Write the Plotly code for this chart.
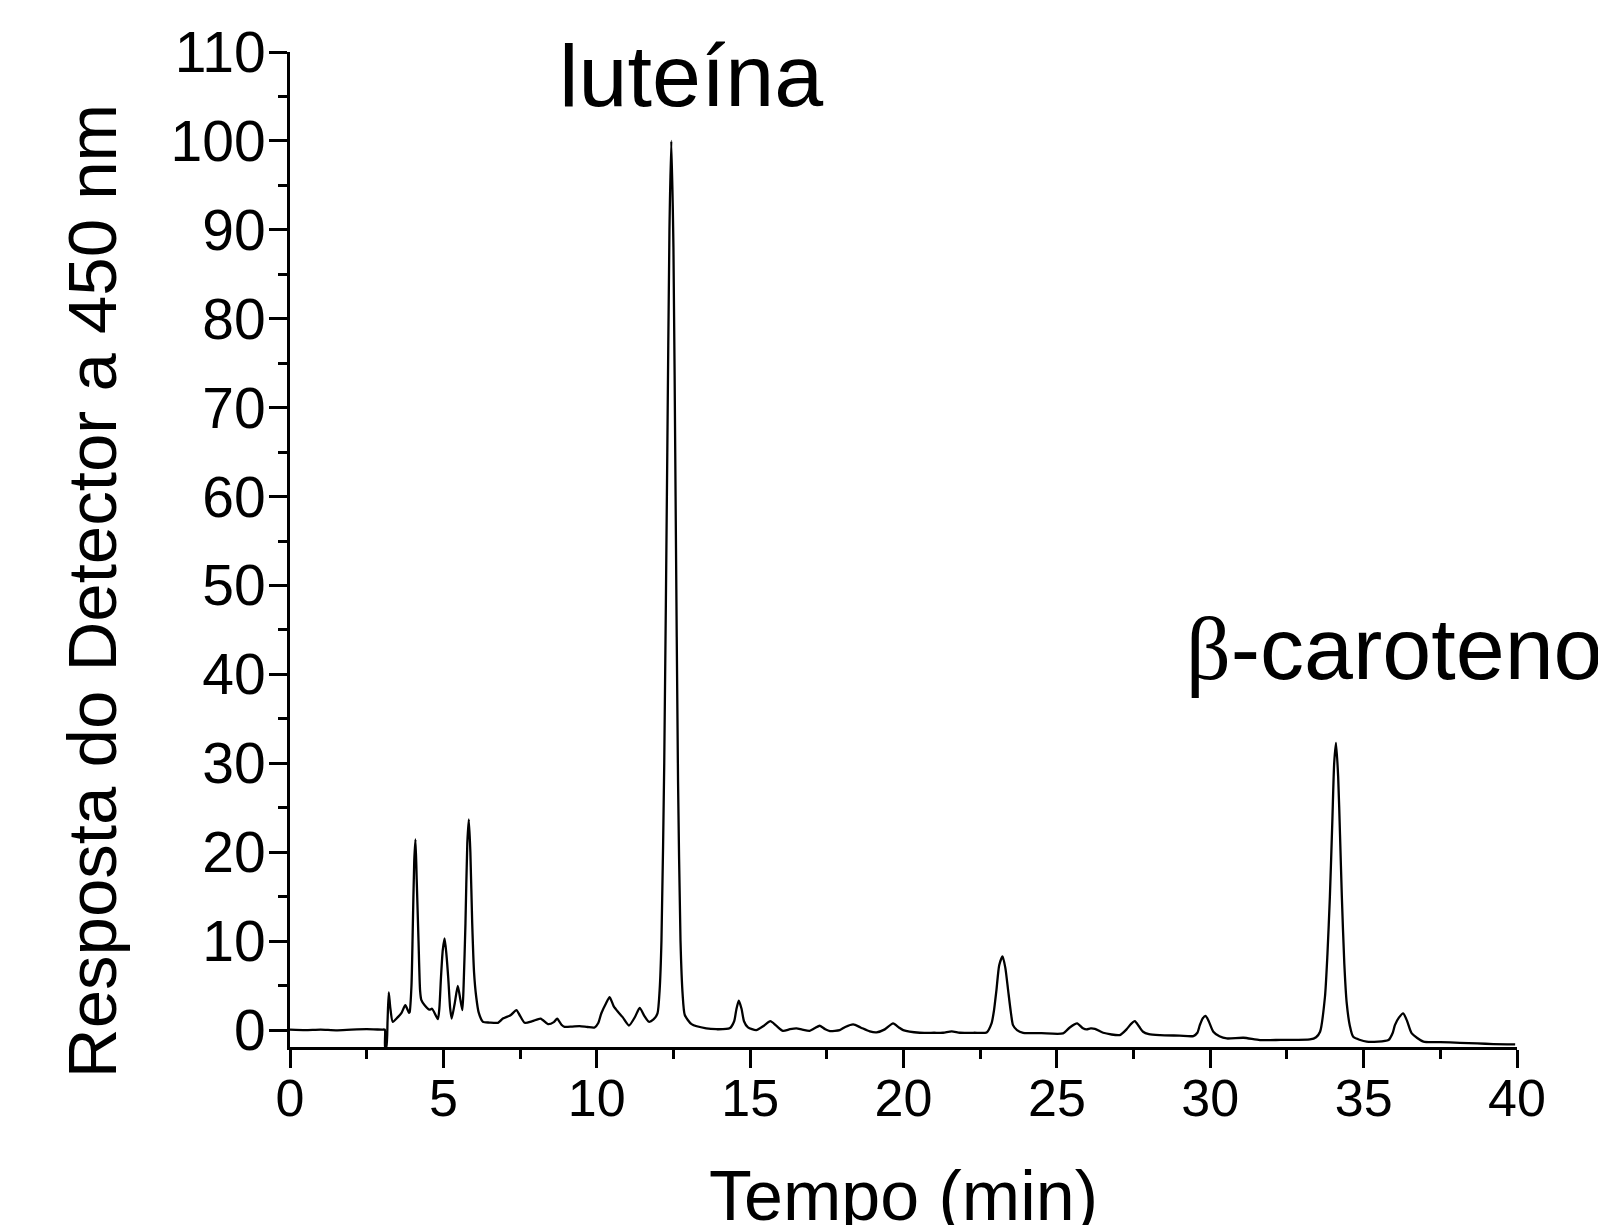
import plotly.graph_objects as go

# Retention time (min) and detector response
tempo = [
    0.0, 0.5, 1.0, 1.5, 2.0, 2.5, 3.0, 3.09, 3.10, 3.14,
    3.18, 3.22, 3.27, 3.35, 3.5, 3.63, 3.76, 3.88,
    3.9, 3.96, 4.0, 4.05, 4.09, 4.13, 4.19, 4.24, 4.28, 4.39, 4.55, 4.63, 4.82,
    4.87, 4.92, 4.98, 5.04, 5.1, 5.16, 5.22, 5.27,
    5.37, 5.47, 5.55, 5.62,
    5.66, 5.72, 5.78, 5.83, 5.88, 5.94, 6.0, 6.07, 6.15, 6.29,
    6.5, 6.78, 6.94, 7.2, 7.38, 7.5, 7.65, 7.9, 8.17, 8.41, 8.6, 8.71, 8.85, 8.95,
    9.2, 9.44, 9.7, 9.93, 10.05, 10.15, 10.3, 10.42, 10.55, 10.69, 10.85, 11.05,
    11.25, 11.4, 11.55, 11.7, 11.85, 11.98, 12.05, 12.11, 12.2, 12.3, 12.37,
    12.43, 12.5, 12.57, 12.65, 12.73, 12.8, 12.87, 13.09, 13.57, 13.9, 14.33,
    14.48, 14.55, 14.63, 14.72, 14.8, 14.93, 15.2, 15.45, 15.66, 15.85, 16.07,
    16.3, 16.51, 16.7, 16.94, 17.1, 17.27, 17.45, 17.6, 17.92, 18.1, 18.36, 18.6,
    18.9, 19.12, 19.39, 19.66, 19.85, 19.99, 20.53, 21.0, 21.29, 21.57, 21.84,
    22.3, 22.71, 22.87, 22.95, 23.03, 23.12, 23.23, 23.32, 23.41, 23.5, 23.57,
    23.7, 23.9, 24.5, 25.2, 25.42, 25.66, 25.85, 25.97, 26.1, 26.24, 26.51,
    27.05, 27.27, 27.42, 27.54, 27.68, 27.81, 28.0, 28.36, 29.0, 29.45, 29.58,
    29.66, 29.75, 29.85, 29.95, 30.1, 30.3, 30.54, 31.08, 31.62, 32.3, 33.25,
    33.45, 33.58, 33.74, 33.82, 33.9, 33.98, 34.04, 34.1, 34.17, 34.23, 34.29,
    34.37, 34.45, 34.55, 34.66, 35.1, 35.81, 35.95, 36.02, 36.15, 36.29, 36.42,
    36.57, 36.95, 37.5, 38.14, 38.7, 39.23, 39.94,
]
resposta = [
    0.05, 0.0, 0.05, -0.02, 0.05, 0.1, 0.05, 0.05, -1.9, -1.9,
    1.0, 4.24, 2.5, 0.93, 1.4, 1.9, 2.8, 1.95,
    2.0, 5.0, 11.0, 19.0, 21.45, 17.0, 10.0, 4.5, 3.4, 2.8, 2.3, 2.4, 1.24,
    2.5, 5.8, 9.0, 10.3, 8.5, 5.8, 2.5, 1.3,
    3.0, 4.98, 3.5, 2.25,
    5.0, 12.0, 21.0, 23.7, 20.0, 12.0, 6.5, 3.75, 2.0, 0.93,
    0.85, 0.82, 1.3, 1.7, 2.25, 1.6, 0.82, 1.0, 1.3, 0.67, 0.9, 1.3, 0.6, 0.37,
    0.4, 0.45, 0.35, 0.3, 0.8, 1.9, 3.0, 3.7, 2.7, 2.06, 1.43, 0.52,
    1.5, 2.5, 1.6, 0.94, 1.2, 1.88, 4.5, 10.1, 30.0, 65.0, 90.0,
    100.0, 88.0, 60.0, 28.0, 10.1, 4.0, 1.7, 0.67, 0.19, 0.1, 0.2,
    1.0, 2.3, 3.3, 2.4, 1.0, 0.3, 0.0, 0.5, 1.0, 0.5, -0.08,
    0.1, 0.19, 0.05, -0.08, 0.2, 0.49, 0.1, -0.11, 0.0, 0.35, 0.64, 0.3,
    -0.15, -0.26, 0.08, 0.75, 0.3, 0.0, -0.3, -0.3, -0.3, -0.15, -0.3,
    -0.3, -0.26, 0.75, 2.2, 4.5, 7.3, 8.3, 7.0, 4.5, 2.0, 0.56,
    0.0, -0.3, -0.35, -0.37, 0.3, 0.75, 0.2, 0.08, 0.2, 0.15, -0.3,
    -0.56, 0.08, 0.7, 1.0, 0.4, -0.19, -0.45, -0.56, -0.62, -0.67, -0.3,
    0.56, 1.3, 1.6, 1.0, -0.19, -0.7, -0.94, -0.86, -1.12, -1.1, -1.05,
    -0.8, -0.19, 3.75, 8.5, 15.0, 23.5, 30.0, 32.3, 28.5, 22.0, 15.0,
    7.5, 3.0, 0.5, -0.75, -1.3, -1.12, -0.3, 0.56, 1.4, 1.88, 1.0,
    -0.37, -1.3, -1.35, -1.43, -1.5, -1.57, -1.6,
]

x_ticks = [0, 5, 10, 15, 20, 25, 30, 35, 40]
y_ticks = [0, 10, 20, 30, 40, 50, 60, 70, 80, 90, 100, 110]

FONT = "Liberation Sans, Arial, sans-serif"

fig = go.Figure()
fig.add_trace(go.Scatter(
    x=tempo, y=resposta, mode="lines",
    line=dict(color="black", width=2.3, shape="spline", smoothing=0.6),
    showlegend=False, hoverinfo="x+y",
))

axis_common = dict(
    showline=True, linecolor="black", linewidth=3,
    ticks="outside", ticklen=18, tickwidth=3, tickcolor="black",
    showgrid=False, zeroline=False, mirror=False, automargin=False,
)

fig.update_xaxes(
    range=[0, 40], tickmode="array", tickvals=x_ticks,
    ticktext=[str(v) for v in x_ticks],
    tickfont=dict(family=FONT, size=52, color="black"),
    ticklabelstandoff=-14,
    minor=dict(dtick=2.5, ticklen=9, tickwidth=3, tickcolor="black", ticks="outside", showgrid=False),
    **axis_common,
)
fig.update_yaxes(
    range=[-1.9, 110], tickmode="array", tickvals=y_ticks,
    ticktext=[str(v) for v in y_ticks],
    tickfont=dict(family=FONT, size=57, color="black"),
    ticklabelstandoff=-8,
    minor=dict(dtick=5, tick0=0, ticklen=9, tickwidth=3, tickcolor="black", ticks="outside", showgrid=False),
    **axis_common,
)

# axis titles
fig.add_annotation(
    text="Tempo (min)", xref="paper", yref="paper", x=0.5, y=0,
    xanchor="center", yanchor="top", yshift=-108, showarrow=False,
    font=dict(family=FONT, size=70, color="black"),
)
fig.add_annotation(
    text="Resposta do Detector a 450 nm", textangle=-90,
    xref="paper", yref="paper", x=-0.1615, y=0.458,
    xanchor="center", yanchor="middle", showarrow=False,
    font=dict(family=FONT, size=69, color="black"),
)
# peak labels
fig.add_annotation(
    text="luteína", xref="x", yref="y", x=13.08, y=101.55,
    xanchor="center", yanchor="bottom", showarrow=False,
    font=dict(family=FONT, size=88, color="black"),
)
fig.add_annotation(
    text="<span style='font-family:Liberation Serif'>β</span>-caroteno",
    xref="x", yref="y", x=36.0, y=37.1,
    xanchor="center", yanchor="bottom", showarrow=False,
    font=dict(family=FONT, size=88, color="black"),
)

# page body has an 8px margin, so the figure is sized to fill the rest of the window
fig.update_layout(
    width=1598, height=1217,
    margin=dict(l=282, r=89, t=44, b=178, autoexpand=False),
    paper_bgcolor="white", plot_bgcolor="white",
    font=dict(family=FONT, color="black"),
)

fig.write_html("out.html")
